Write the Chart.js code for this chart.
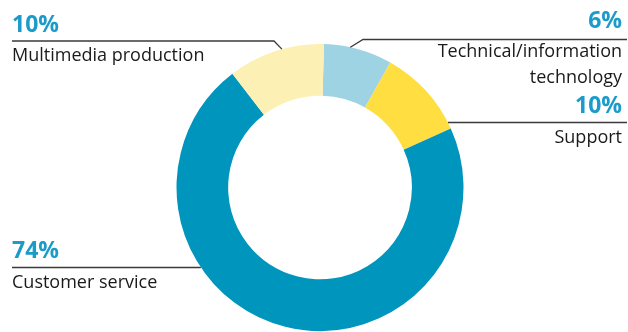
<!DOCTYPE html>
<html>
<head>
<meta charset="utf-8">
<script src="https://cdn.jsdelivr.net/npm/chart.js@4"></script>
<style>
html,body{margin:0;padding:0;background:#fff;}
#wrap{width:628px;height:332px;position:relative;}
</style>
</head>
<body>
<div id="wrap"><canvas id="c" width="628" height="332"></canvas></div>
<script>
const categories = ['Technical/information technology', 'Support', 'Customer service', 'Multimedia production'];
const sliceValues = [7.7, 10.1, 71.3, 10.9];
const percentLabels = ['6%', '10%', '74%', '10%'];
const sliceColors = ['#9dd3e3', '#ffde41', '#0095bd', '#fdf0b4'];

// label placement (styling only)
const labelLayout = [
  {side:'right', lines:['Technical/information','technology'], pctY:28, ruleY:39.5, textY:[56.8,82.5], elbowX:363, angle:12.2},
  {side:'right', lines:['Support'], pctY:113, ruleY:122.5, textY:[143], elbowX:null, angle:null},
  {side:'left',  lines:['Customer service'], pctY:258, ruleY:267.5, textY:[287.5], elbowX:null, angle:null},
  {side:'left',  lines:['Multimedia production'], pctY:32, ruleY:41, textY:[61.2], elbowX:274, angle:-15.4}
];

const labelPlugin = {
  id:'labels',
  afterDraw(chart){
    const ctx = chart.ctx;
    const arc = chart.getDatasetMeta(0).data[0];
    const cx = arc.x, cy = arc.y, R = arc.outerRadius;
    const leftX = 12, rightX = 622, ruleRight = 627;
    ctx.save();
    labelLayout.forEach((L, i) => {
      ctx.strokeStyle = '#3a3a3a';
      ctx.lineWidth = 1.3;
      ctx.beginPath();
      if (L.side === 'left') {
        if (L.elbowX !== null) {
          const a = L.angle*Math.PI/180;
          ctx.moveTo(leftX, L.ruleY);
          ctx.lineTo(L.elbowX, L.ruleY);
          ctx.lineTo(cx + R*Math.sin(a), cy - R*Math.cos(a));
        } else {
          const dy = L.ruleY - cy;
          const dx = Math.sqrt(R*R - dy*dy);
          ctx.moveTo(leftX, L.ruleY);
          ctx.lineTo(cx - dx, L.ruleY);
        }
      } else {
        if (L.elbowX !== null) {
          const a = L.angle*Math.PI/180;
          ctx.moveTo(cx + R*Math.sin(a), cy - R*Math.cos(a));
          ctx.lineTo(L.elbowX, L.ruleY);
          ctx.lineTo(ruleRight, L.ruleY);
        } else {
          const dy = L.ruleY - cy;
          const dx = Math.sqrt(R*R - dy*dy);
          ctx.moveTo(cx + dx, L.ruleY);
          ctx.lineTo(ruleRight, L.ruleY);
        }
      }
      ctx.stroke();
      ctx.textBaseline = 'alphabetic';
      ctx.textAlign = L.side === 'left' ? 'left' : 'right';
      const tx = L.side === 'left' ? leftX : rightX;
      ctx.fillStyle = '#1b9bca';
      ctx.font = 'bold 23px "Open Sans", sans-serif';
      ctx.fillText(percentLabels[i], tx, L.pctY);
      ctx.fillStyle = '#1a1a1a';
      ctx.font = '18px "Open Sans", sans-serif';
      L.lines.forEach((t, j) => ctx.fillText(t, tx, L.textY[j]));
    });
    ctx.restore();
  }
};

new Chart(document.getElementById('c'), {
  type:'doughnut',
  data:{
    labels:categories,
    datasets:[{data:sliceValues, backgroundColor:sliceColors, borderWidth:0, hoverOffset:0}]
  },
  options:{
    responsive:false,
    animation:false,
    rotation:1.6,
    cutout:'64%',
    layout:{padding:{left:12, right:0, top:44, bottom:1}},
    plugins:{legend:{display:false}, tooltip:{enabled:false}}
  },
  plugins:[labelPlugin]
});
</script>
</body>
</html>
